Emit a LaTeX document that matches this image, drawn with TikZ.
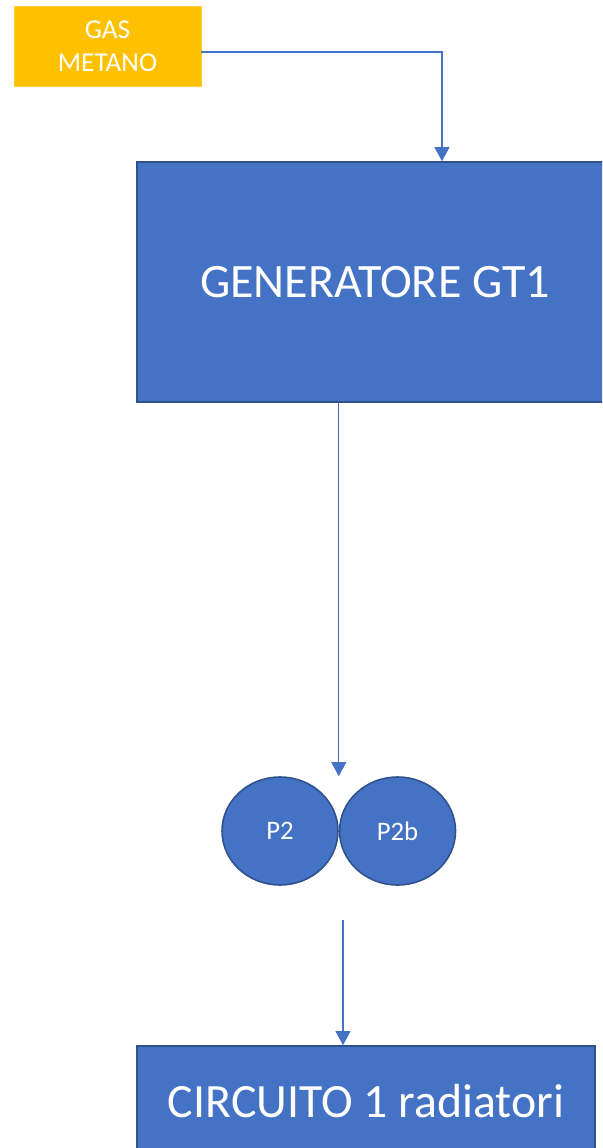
\documentclass[tikz,border=0pt]{standalone}
\usepackage{fontspec}
\setmainfont{Carlito}
\usetikzlibrary{positioning,shapes.geometric,arrows.meta}
\definecolor{boxblue}{HTML}{4472C4}
\definecolor{edgeblue}{HTML}{2F528F}
\definecolor{gasyellow}{HTML}{FFC000}
\begin{document}
\begin{tikzpicture}[x=0.02cm,y=-0.02cm,
 block/.style={rectangle,draw=edgeblue,fill=boxblue,line width=0.9pt,text=white},
 pump/.style={ellipse,draw=edgeblue,fill=boxblue,line width=0.9pt,text=white,
   minimum width=2.32cm,minimum height=2.16cm,inner sep=0pt,font=\fontsize{15.2}{18}\selectfont},
 flow/.style={draw=boxblue,line width=0.7pt,-{Triangle[length=8pt,width=8.5pt]}}]

  \useasboundingbox (0,0) rectangle (602,1148);
  \clip (0,0) rectangle (602,1148);

  \node[rectangle,fill=gasyellow,draw=gasyellow!80!white,text=white,
    minimum width=3.74cm,minimum height=1.6cm,align=center,
    font=\fontsize{15.5}{18.6}\selectfont] (gas) at (107.5,46) {GAS\\METANO};
  \node[block,minimum width=9.52cm,minimum height=4.8cm,
    font=\fontsize{27.3}{32}\selectfont] (gen) at (375,282) {GENERATORE GT1};
  \node[pump] (p2) at (280,831) {P2};
  \node[pump] (p2b) [right=0pt of p2] {P2b};
  \node[block,minimum width=9.16cm,minimum height=2.2cm,
    font=\fontsize{27.2}{32}\selectfont] (circ) at (366,1101) {CIRCUITO 1 radiatori};
  \coordinate (out) at (343,920);

  \draw[flow] (gas.east |- 0,52) -| ([xshift=1.34cm]gen.north);
  \draw[flow] (gen.south -| p2.east) -- (p2.east |- p2.north);
  \draw[flow] (out) -- (out |- circ.north);
\end{tikzpicture}
\end{document}
